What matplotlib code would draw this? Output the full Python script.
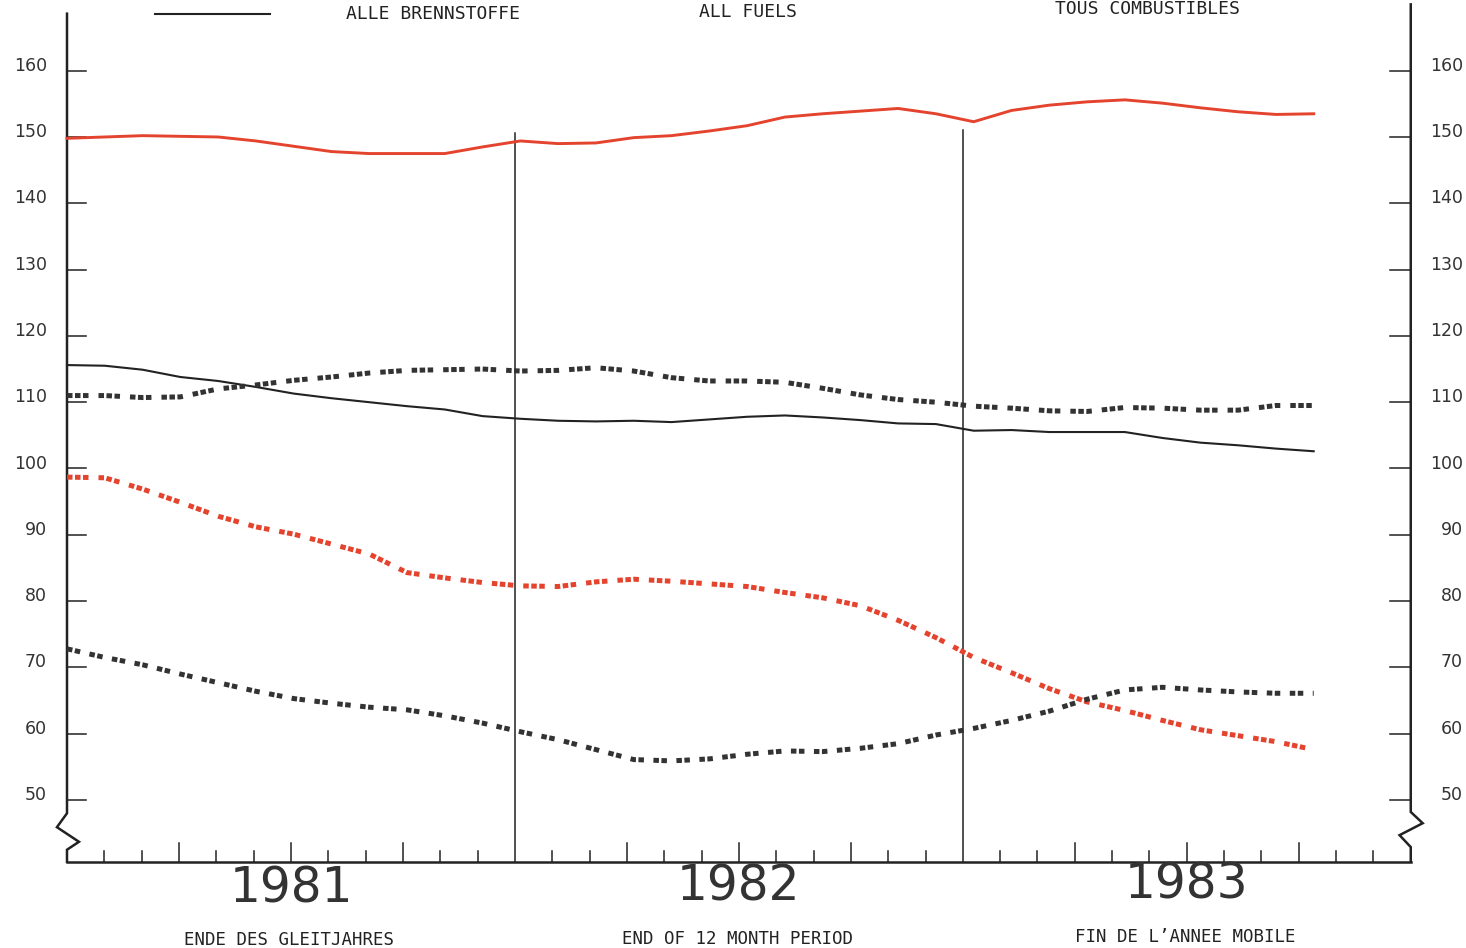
import matplotlib

matplotlib.use("Agg")
import matplotlib.pyplot as plt
import numpy as np

# monthly values, end of 12 month period, Jan 1981 .. Oct 1983
months = np.linspace(0, 33.4, 34)

all_fuels = [
    115.6, 115.5, 114.9, 113.8, 113.2, 112.3, 111.3, 110.6, 110.0, 109.4,
    108.9, 107.9, 107.5, 107.2, 107.1, 107.2, 107.0, 107.4, 107.8, 108.0,
    107.7, 107.3, 106.8, 106.7, 105.7, 105.8, 105.5, 105.5, 105.5, 104.6,
    103.9, 103.5, 103.0, 102.6,
]
red_solid = [
    149.8, 150.0, 150.2, 150.1, 150.0, 149.4, 148.6, 147.8, 147.5, 147.5,
    147.5, 148.5, 149.4, 149.0, 149.1, 149.9, 150.2, 150.9, 151.7, 153.0,
    153.5, 153.9, 154.3, 153.5, 152.3, 154.0, 154.8, 155.3, 155.6, 155.1,
    154.4, 153.8, 153.4, 153.5,
]
black_dotted_upper = [
    111.0, 111.0, 110.7, 110.8, 112.0, 112.6, 113.3, 113.8, 114.4, 114.8,
    114.9, 115.0, 114.7, 114.8, 115.2, 114.7, 113.7, 113.2, 113.2, 113.0,
    112.1, 111.1, 110.4, 110.0, 109.4, 109.1, 108.7, 108.6, 109.2, 109.1,
    108.8, 108.8, 109.5, 109.5,
]
red_dotted = [
    98.7, 98.6, 96.9, 94.9, 92.8, 91.2, 90.1, 88.6, 87.1, 84.3,
    83.5, 82.8, 82.3, 82.2, 82.9, 83.3, 83.0, 82.6, 82.2, 81.3,
    80.5, 79.3, 77.1, 74.5, 71.5, 69.2, 66.8, 64.8, 63.5, 62.0,
    60.6, 59.7, 58.8, 57.6,
]
black_dotted_lower = [
    72.8, 71.5, 70.4, 69.0, 67.7, 66.4, 65.3, 64.6, 64.0, 63.6,
    62.7, 61.6, 60.3, 59.1, 57.6, 56.1, 55.9, 56.2, 56.9, 57.4,
    57.3, 57.8, 58.5, 59.8, 60.8, 62.0, 63.4, 65.2, 66.6, 67.0,
    66.6, 66.3, 66.1, 66.1,
]

y_ticks = [50, 60, 70, 80, 90, 100, 110, 120, 130, 140, 150, 160]
years = ["1981", "1982", "1983"]
legend_texts = ["ALLE BRENNSTOFFE", "ALL FUELS", "TOUS COMBUSTIBLES"]
footer_texts = ["ENDE DES GLEITJAHRES", "END OF 12 MONTH PERIOD", "FIN DE L\u2019ANNEE MOBILE"]

RED = "#e4432e"
INK = "#222222"
GREY = "#333333"

fig = plt.figure(figsize=(14.66, 9.48), dpi=100)
fig.patch.set_facecolor("white")
ax = fig.add_axes([0, 0, 1, 1])
ax.set_xlim(-1.795, 37.48)
ax.set_ylim(27.68, 170.66)
ax.axis("off")

base = 40.7

# frame: left axis with break, bottom axis, right axis with break
ax.plot([0, 0, -0.27, 0.32, 0, 0], [168.6, 48.0, 45.9, 43.7, 42.5, base],
        color=INK, lw=1.8, solid_joinstyle="miter")
ax.plot([0, 36], [base, base], color=INK, lw=1.8)
ax.plot([36, 36, 35.7, 36.32, 36, 36], [base, 42.9, 44.7, 46.5, 48.2, 170.0],
        color=INK, lw=1.8, solid_joinstyle="miter")

# y ticks and labels on both sides
for v in y_ticks:
    ax.plot([0, 0.5], [v, v], color=INK, lw=1.1)
    ax.plot([35.45, 36], [v, v], color=INK, lw=1.1)
    ax.text(-0.54, v + 0.75, str(v), ha="right", va="center", fontsize=12.5,
            color=GREY, family="DejaVu Sans")
    ax.text(37.4, v + 0.75, str(v), ha="right", va="center", fontsize=12.5,
            color=GREY, family="DejaVu Sans")

# month ticks
for m in range(1, 36):
    if m in (12, 24):
        continue
    top = base + (2.8 if m % 3 == 0 else 1.6)
    ax.plot([m, m], [base, top], color=INK, lw=1.1)

# year separators
ax.plot([12, 12], [base, 150.6], color=INK, lw=1.1)
ax.plot([24, 24], [base, 151.0], color=INK, lw=1.1)

# series
ax.plot(months, red_solid, color=RED, lw=2.1)
ax.plot(months, all_fuels, color=INK, lw=1.5)
triple = (0, (1.1, 0.5, 1.1, 0.5, 1.1, 2.0))
pair = (0, (1.1, 0.5, 1.1, 1.9))
ax.plot(months, black_dotted_upper, color=GREY, lw=3.6, linestyle=triple,
        dash_capstyle="butt")
ax.plot(months, red_dotted, color=RED, lw=3.6, linestyle=triple,
        dash_capstyle="butt")
ax.plot(months, black_dotted_lower, color=GREY, lw=3.6, linestyle=pair,
        dash_capstyle="butt")

# legend line and titles
ax.plot([2.36, 5.44], [168.55, 168.55], color=INK, lw=1.5)
for xc, yc, txt in zip([9.8, 18.25, 28.95], [168.6, 168.9, 169.35], legend_texts):
    ax.text(xc, yc, txt, ha="center", va="center", fontsize=13,
            color=INK, family="DejaVu Sans Mono")

# year labels and footers
for i, (yr, ft) in enumerate(zip(years, footer_texts)):
    xc = 6 + 12 * i
    ax.text(xc, 36.7 + 0.25 * i, yr, ha="center", va="center", fontsize=35,
            color=GREY, family="DejaVu Sans")
    ax.text(xc - 0.05, 28.9 + 0.2 * i, ft, ha="center", va="center",
            fontsize=12.5, color=INK, family="DejaVu Sans Mono")

fig.savefig("out.png", dpi=100, facecolor="white")
